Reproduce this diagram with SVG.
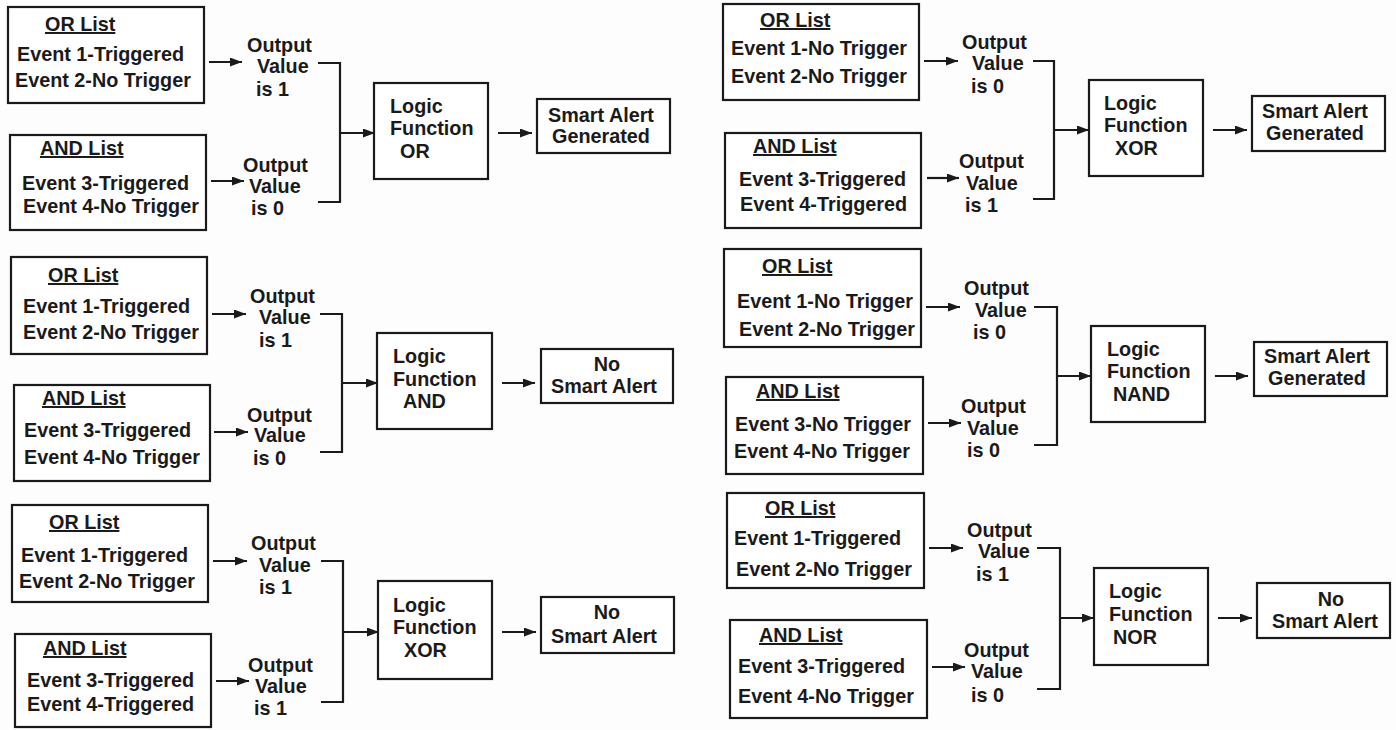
<svg xmlns="http://www.w3.org/2000/svg" width="1396" height="730" viewBox="0 0 1396 730">
<style>
.box{fill:#fff;stroke:#1a1a1a;stroke-width:2.2}
.t{font-family:"Liberation Sans",Arial,sans-serif;font-weight:bold;font-size:19.8px;fill:#1a1a1a}
.u{text-decoration:underline}
.c{text-anchor:middle}
.ln{fill:none;stroke:#1a1a1a;stroke-width:2.2}
</style>
<defs>
<marker id="ah" markerUnits="userSpaceOnUse" markerWidth="13" markerHeight="10" refX="12" refY="4.5" orient="auto">
<path d="M0,0 L12,4.5 L0,9 z" fill="#1a1a1a"/>
</marker>
</defs>
<rect width="1396" height="730" fill="#fdfdfd"/>

<!-- Panel 1 -->
<g id="p1-or"><rect class="box" x="8" y="7" width="196" height="96"/>
<text class="t u" x="45" y="31">OR List</text>
<text class="t" x="17" y="61">Event 1-Triggered</text>
<text class="t" x="15" y="87">Event 2-No Trigger</text></g>
<g id="p1-and"><rect class="box" x="10" y="135" width="196" height="95"/>
<text class="t u" x="40" y="155">AND List</text>
<text class="t" x="22" y="190">Event 3-Triggered</text>
<text class="t" x="23" y="213">Event 4-No Trigger</text></g>
<g id="p1-out1"><text class="t" x="247" y="52">Output</text><text class="t" x="257" y="73">Value</text><text class="t" x="256" y="96">is 1</text></g>
<g id="p1-out2"><text class="t" x="243" y="172">Output</text><text class="t" x="249" y="193">Value</text><text class="t" x="251" y="215">is 0</text></g>
<g id="p1-logic"><rect class="box" x="374" y="83" width="114" height="96"/>
<text class="t" x="390" y="113">Logic</text><text class="t" x="390" y="135">Function</text><text class="t" x="400" y="158">OR</text></g>
<g id="p1-result"><rect class="box" x="537" y="99" width="133" height="54"/>
<text class="t c" x="601" y="122">Smart Alert</text><text class="t c" x="601" y="143">Generated</text></g>

<!-- Panel 2 -->
<g id="p2-or"><rect class="box" x="11" y="257" width="196" height="97"/>
<text class="t u" x="48" y="282">OR List</text>
<text class="t" x="23" y="313">Event 1-Triggered</text>
<text class="t" x="23" y="339">Event 2-No Trigger</text></g>
<g id="p2-and"><rect class="box" x="14" y="385" width="196" height="96"/>
<text class="t u" x="42" y="405">AND List</text>
<text class="t" x="24" y="437">Event 3-Triggered</text>
<text class="t" x="24" y="464">Event 4-No Trigger</text></g>
<g id="p2-out1"><text class="t" x="250" y="303">Output</text><text class="t" x="259" y="324">Value</text><text class="t" x="259" y="347">is 1</text></g>
<g id="p2-out2"><text class="t" x="247" y="422">Output</text><text class="t" x="254" y="442">Value</text><text class="t" x="253" y="465">is 0</text></g>
<g id="p2-logic"><rect class="box" x="377" y="333" width="115" height="96"/>
<text class="t" x="393" y="363">Logic</text><text class="t" x="393" y="386">Function</text><text class="t" x="403" y="408">AND</text></g>
<g id="p2-result"><rect class="box" x="541" y="349" width="132" height="54"/>
<text class="t c" x="607" y="371">No</text><text class="t c" x="604" y="393">Smart Alert</text></g>

<!-- Panel 3 -->
<g id="p3-or"><rect class="box" x="12" y="505" width="196" height="97"/>
<text class="t u" x="49" y="529">OR List</text>
<text class="t" x="21" y="562">Event 1-Triggered</text>
<text class="t" x="19" y="588">Event 2-No Trigger</text></g>
<g id="p3-and"><rect class="box" x="15" y="634" width="196" height="93"/>
<text class="t u" x="43" y="655">AND List</text>
<text class="t" x="27" y="687">Event 3-Triggered</text>
<text class="t" x="27" y="711">Event 4-Triggered</text></g>
<g id="p3-out1"><text class="t" x="251" y="550">Output</text><text class="t" x="259" y="572">Value</text><text class="t" x="259" y="594">is 1</text></g>
<g id="p3-out2"><text class="t" x="248" y="672">Output</text><text class="t" x="255" y="693">Value</text><text class="t" x="254" y="715">is 1</text></g>
<g id="p3-logic"><rect class="box" x="378" y="581" width="114" height="98"/>
<text class="t" x="393" y="612">Logic</text><text class="t" x="393" y="634">Function</text><text class="t" x="404" y="657">XOR</text></g>
<g id="p3-result"><rect class="box" x="541" y="597" width="133" height="56"/>
<text class="t c" x="607" y="619">No</text><text class="t c" x="604" y="643">Smart Alert</text></g>

<!-- Panel 4 -->
<g id="p4-or"><rect class="box" x="723" y="4" width="196" height="96"/>
<text class="t u" x="760" y="27">OR List</text>
<text class="t" x="731" y="55">Event 1-No Trigger</text>
<text class="t" x="731" y="83">Event 2-No Trigger</text></g>
<g id="p4-and"><rect class="box" x="725" y="133" width="196" height="95"/>
<text class="t u" x="753" y="153">AND List</text>
<text class="t" x="739" y="186">Event 3-Triggered</text>
<text class="t" x="740" y="211">Event 4-Triggered</text></g>
<g id="p4-out1"><text class="t" x="962" y="49">Output</text><text class="t" x="972" y="70">Value</text><text class="t" x="971" y="93">is 0</text></g>
<g id="p4-out2"><text class="t" x="959" y="168">Output</text><text class="t" x="966" y="190">Value</text><text class="t" x="965" y="212">is 1</text></g>
<g id="p4-logic"><rect class="box" x="1089" y="80" width="114" height="96"/>
<text class="t" x="1104" y="110">Logic</text><text class="t" x="1104" y="132">Function</text><text class="t" x="1115" y="155">XOR</text></g>
<g id="p4-result"><rect class="box" x="1252" y="96" width="133" height="55"/>
<text class="t c" x="1315" y="118">Smart Alert</text><text class="t c" x="1315" y="140">Generated</text></g>

<!-- Panel 5 -->
<g id="p5-or"><rect class="box" x="724" y="249" width="197" height="98"/>
<text class="t u" x="762" y="273">OR List</text>
<text class="t" x="737" y="308">Event 1-No Trigger</text>
<text class="t" x="739" y="336">Event 2-No Trigger</text></g>
<g id="p5-and"><rect class="box" x="726" y="377" width="197" height="97"/>
<text class="t u" x="756" y="398">AND List</text>
<text class="t" x="735" y="431">Event 3-No Trigger</text>
<text class="t" x="734" y="458">Event 4-No Trigger</text></g>
<g id="p5-out1"><text class="t" x="964" y="295">Output</text><text class="t" x="975" y="317">Value</text><text class="t" x="973" y="339">is 0</text></g>
<g id="p5-out2"><text class="t" x="961" y="413">Output</text><text class="t" x="967" y="435">Value</text><text class="t" x="967" y="457">is 0</text></g>
<g id="p5-logic"><rect class="box" x="1091" y="326" width="114" height="96"/>
<text class="t" x="1107" y="356">Logic</text><text class="t" x="1107" y="378">Function</text><text class="t" x="1113" y="401">NAND</text></g>
<g id="p5-result"><rect class="box" x="1254" y="342" width="133" height="54"/>
<text class="t c" x="1317" y="363">Smart Alert</text><text class="t c" x="1317" y="385">Generated</text></g>

<!-- Panel 6 -->
<g id="p6-or"><rect class="box" x="727" y="493" width="197" height="95"/>
<text class="t u" x="765" y="515">OR List</text>
<text class="t" x="734" y="545">Event 1-Triggered</text>
<text class="t" x="736" y="576">Event 2-No Trigger</text></g>
<g id="p6-and"><rect class="box" x="730" y="620" width="197" height="98"/>
<text class="t u" x="759" y="642">AND List</text>
<text class="t" x="738" y="673">Event 3-Triggered</text>
<text class="t" x="738" y="703">Event 4-No Trigger</text></g>
<g id="p6-out1"><text class="t" x="967" y="537">Output</text><text class="t" x="978" y="558">Value</text><text class="t" x="976" y="581">is 1</text></g>
<g id="p6-out2"><text class="t" x="964" y="657">Output</text><text class="t" x="971" y="678">Value</text><text class="t" x="971" y="702">is 0</text></g>
<g id="p6-logic"><rect class="box" x="1094" y="568" width="114" height="97"/>
<text class="t" x="1109" y="598">Logic</text><text class="t" x="1109" y="621">Function</text><text class="t" x="1113" y="644">NOR</text></g>
<g id="p6-result"><rect class="box" x="1257" y="583" width="133" height="55"/>
<text class="t c" x="1331" y="606">No</text><text class="t c" x="1325" y="628">Smart Alert</text></g>

<g id="connectors">
<!-- P1 -->
<path class="ln" marker-end="url(#ah)" d="M209,62 H242"/>
<path class="ln" marker-end="url(#ah)" d="M211,181 H244"/>
<path class="ln" d="M318,63 H340 V202 H318"/>
<path class="ln" marker-end="url(#ah)" d="M340,133 H375"/>
<path class="ln" marker-end="url(#ah)" d="M498,133 H532"/>
<!-- P2 -->
<path class="ln" marker-end="url(#ah)" d="M212,314 H246"/>
<path class="ln" marker-end="url(#ah)" d="M214,432 H248"/>
<path class="ln" d="M320,314 H342 V452 H320"/>
<path class="ln" marker-end="url(#ah)" d="M342,383 H378"/>
<path class="ln" marker-end="url(#ah)" d="M502,383 H535"/>
<!-- P3 -->
<path class="ln" marker-end="url(#ah)" d="M213,561 H247"/>
<path class="ln" marker-end="url(#ah)" d="M216,681 H249"/>
<path class="ln" d="M321,561 H343 V702 H321"/>
<path class="ln" marker-end="url(#ah)" d="M343,632 H379"/>
<path class="ln" marker-end="url(#ah)" d="M502,632 H536"/>
<!-- P4 -->
<path class="ln" marker-end="url(#ah)" d="M924,61 H958"/>
<path class="ln" marker-end="url(#ah)" d="M927,178 H959"/>
<path class="ln" d="M1033,61 H1054 V199 H1033"/>
<path class="ln" marker-end="url(#ah)" d="M1054,130 H1089"/>
<path class="ln" marker-end="url(#ah)" d="M1213,130 H1247"/>
<!-- P5 -->
<path class="ln" marker-end="url(#ah)" d="M926,307 H960"/>
<path class="ln" marker-end="url(#ah)" d="M928,423 H961"/>
<path class="ln" d="M1034,307 H1057 V445 H1034"/>
<path class="ln" marker-end="url(#ah)" d="M1057,376 H1091"/>
<path class="ln" marker-end="url(#ah)" d="M1215,376 H1248"/>
<!-- P6 -->
<path class="ln" marker-end="url(#ah)" d="M929,548 H963"/>
<path class="ln" marker-end="url(#ah)" d="M932,667 H965"/>
<path class="ln" d="M1037,548 H1060 V689 H1037"/>
<path class="ln" marker-end="url(#ah)" d="M1060,618 H1094"/>
<path class="ln" marker-end="url(#ah)" d="M1218,618 H1252"/>
</g>
</svg>
